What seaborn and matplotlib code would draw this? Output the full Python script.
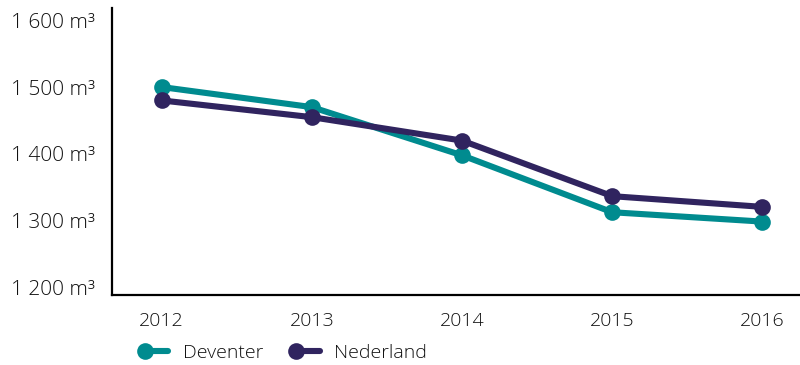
import matplotlib
matplotlib.use("Agg")
import matplotlib.pyplot as plt
from matplotlib.legend_handler import HandlerLine2DCompound
from matplotlib.lines import Line2D
import seaborn as sns
import pandas as pd

years = [2012, 2013, 2014, 2015, 2016]
deventer = [1500, 1470, 1398, 1313, 1299]
nederland = [1480, 1455, 1420, 1337, 1321]
series_names = ["Deventer", "Nederland"]
colors = {"Deventer": "#008B8F", "Nederland": "#30245F"}
y_ticks = [1200, 1300, 1400, 1500, 1600]

df = pd.DataFrame({
    "jaar": years * 2,
    "verbruik": deventer + nederland,
    "regio": [series_names[0]] * len(years) + [series_names[1]] * len(years),
})

sns.set_theme(style="white")
plt.rcParams["font.family"] = ["Open Sans", "DejaVu Sans"]
plt.rcParams["font.weight"] = "light"
text_color = "#111111"

fig = plt.figure(figsize=(8, 3.65), dpi=100)
ax = fig.add_axes([0.14, 0.192, 0.86, 0.786])

sns.lineplot(data=df, x="jaar", y="verbruik", hue="regio", palette=colors,
             marker="o", markersize=12, markeredgewidth=0, linewidth=4.4,
             solid_capstyle="round", ax=ax, legend=False, zorder=3)

ax.set_xlim(2011.67, 2016.25)
ax.set_ylim(1189.5, 1618)
ax.set_xticks(years)
ax.set_xticklabels([str(y) for y in years])
ax.set_yticks(y_ticks)
ax.set_yticklabels([f"{v // 1000} {v % 1000:03d} m³" for v in y_ticks])
ax.set_xlabel("")
ax.set_ylabel("")
ax.tick_params(axis="both", length=0, colors=text_color)
ax.tick_params(axis="x", labelsize=14, pad=12)
ax.tick_params(axis="y", labelsize=15, pad=12)

for side in ["top", "right"]:
    ax.spines[side].set_visible(False)
for side in ["left", "bottom"]:
    ax.spines[side].set_color("black")
    ax.spines[side].set_linewidth(1.6)


class MarkerLeftHandler(HandlerLine2DCompound):
    """Legend key with the dot at the left end of a short line stub."""
    def get_xdata(self, legend, xdescent, ydescent, width, height, fontsize):
        xdata = [-xdescent, -xdescent + width]
        xdata_marker = [-xdescent]
        return xdata, xdata_marker


handles = [Line2D([], [], color=colors[n], marker="o", markersize=12,
                  markeredgewidth=0, linewidth=4.4, solid_capstyle="round")
           for n in series_names]
leg = fig.legend(handles, series_names, loc="center left",
                 bbox_to_anchor=(145 / 800, 12 / 365), ncol=2, frameon=False,
                 fontsize=14, handlelength=1.2, handletextpad=0.75,
                 columnspacing=1.7, numpoints=1, borderpad=0, borderaxespad=0,
                 handler_map={Line2D: MarkerLeftHandler()})
for t in leg.get_texts():
    t.set_color(text_color)

fig.savefig("out.png", dpi=100)
